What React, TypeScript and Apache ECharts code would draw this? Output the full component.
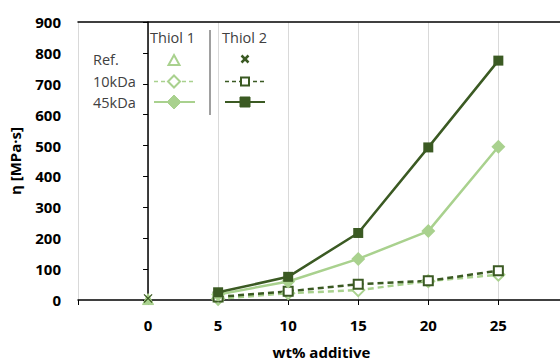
import React, { useEffect, useRef } from "react";
import * as echarts from "echarts";

const xValues = [5, 10, 15, 20, 25];
const refX = [0];
const refThiol1 = [3];
const refThiol2 = [5];
const thiol1_10k = [4, 22, 32, 61, 82];
const thiol2_10k = [10, 28, 51, 62, 95];
const thiol1_45k = [18, 60, 133, 223, 496];
const thiol2_45k = [25, 75, 217, 494, 775];

const LIGHT = "#a9d18e";
const DARK = "#3b5a23";
const TXT = "#404040";
const FONT = "'Open Sans', 'Noto Sans', sans-serif";

const X_SYMBOL =
  "path://M1,0 L5,4 L9,0 L10,1 L6,5 L10,9 L9,10 L5,6 L1,10 L0,9 L4,5 L0,1 Z";

function pairs(xs: number[], ys: number[]) {
  return xs.map((x, i) => [x, ys[i]]);
}

export default function App() {
  const ref = useRef<HTMLDivElement>(null);
  useEffect(() => {
    if (!ref.current) return;
    const chart = echarts.init(ref.current, null, { renderer: "svg" });
    const legendText = (t: string, x: number, y: number) => ({
      type: "text",
      x,
      y,
      style: {
        text: t,
        fill: TXT,
        font: `14.5px ${FONT}`,
        textVerticalAlign: "middle",
        textAlign: "left",
      },
    });
    const diamond = (cx: number, cy: number, h: number, filled: boolean, color: string) => ({
      type: "polygon",
      shape: {
        points: [
          [cx, cy - h],
          [cx + h, cy],
          [cx, cy + h],
          [cx - h, cy],
        ],
      },
      style: { fill: filled ? color : "#fff", stroke: color, lineWidth: filled ? 1 : 2 },
    });
    const xMax = 29.4;
    chart.setOption({
      animation: false,
      grid: {
        left: 78,
        right: 0,
        top: 22,
        bottom: 60,
        outerBoundsMode: "none",
        containLabel: false,
        show: false,
      },
      xAxis: [
        {
          type: "value",
          min: -5,
          max: xMax,
          interval: 5,
          name: "wt% additive",
          nameLocation: "middle",
          nameGap: 44,
          nameTextStyle: {
            color: "#000",
            fontWeight: "bold",
            fontSize: 15,
            fontFamily: FONT,
            padding: [0, 0, 0, 5],
          },
          axisLine: { show: true, lineStyle: { color: "#000", width: 1.5 } },
          axisTick: { show: true, length: 5, lineStyle: { color: "#000" } },
          axisLabel: {
            margin: 17,
            color: "#000",
            fontWeight: "bold",
            fontSize: 15,
            fontFamily: FONT,
            showMaxLabel: false,
            formatter: (v: number) => (v < 0 || v > 25 ? "" : String(v)),
          },
          splitLine: { show: true, showMaxLine: false, lineStyle: { color: "#d9d9d9", width: 1 } },
        },
        {
          type: "value",
          position: "top",
          min: -5,
          max: xMax,
          interval: 5,
          axisLine: { show: true, onZero: false, lineStyle: { color: "#000", width: 1.5 } },
          axisTick: { show: false },
          axisLabel: { show: false },
          splitLine: { show: false },
        },
      ],
      yAxis: {
        type: "value",
        min: 0,
        max: 900,
        interval: 100,
        name: "η [MPa·s]",
        nameLocation: "middle",
        nameGap: 56,
        nameTextStyle: { color: "#000", fontWeight: "bold", fontSize: 15, fontFamily: FONT },
        axisLine: { show: true, lineStyle: { color: "#000", width: 1.5 } },
        axisTick: { show: true, length: 5, lineStyle: { color: "#000" } },
        axisLabel: {
          margin: 17,
          color: "#000",
          fontWeight: "bold",
          fontSize: 15,
          fontFamily: FONT,
        },
        splitLine: { show: false },
      },
      series: [
        {
          name: "Thiol 1 10kDa",
          type: "line",
          data: pairs(xValues, thiol1_10k),
          symbol: "diamond",
          symbolSize: 12,
          lineStyle: { color: LIGHT, width: 2.5, type: [6, 4] },
          itemStyle: { color: "#fff", borderColor: LIGHT, borderWidth: 2 },
        },
        {
          name: "Thiol 2 10kDa",
          type: "line",
          data: pairs(xValues, thiol2_10k),
          symbol: "rect",
          symbolSize: 9,
          lineStyle: { color: DARK, width: 2.5, type: [6, 4] },
          itemStyle: { color: "#fff", borderColor: DARK, borderWidth: 2 },
        },
        {
          name: "Thiol 1 45kDa",
          type: "line",
          data: pairs(xValues, thiol1_45k),
          symbol: "diamond",
          symbolSize: 14,
          lineStyle: { color: LIGHT, width: 2.5 },
          itemStyle: { color: LIGHT },
        },
        {
          name: "Thiol 2 45kDa",
          type: "line",
          data: pairs(xValues, thiol2_45k),
          symbol: "rect",
          symbolSize: 10,
          lineStyle: { color: DARK, width: 2.5 },
          itemStyle: { color: DARK },
        },
        {
          name: "Thiol 1 Ref.",
          type: "line",
          data: pairs(refX, refThiol1),
          symbol: "triangle",
          symbolSize: 11,
          itemStyle: { color: LIGHT, borderColor: LIGHT, borderWidth: 1 },
        },
        {
          name: "Thiol 2 Ref.",
          type: "line",
          data: pairs(refX, refThiol2),
          symbol: X_SYMBOL,
          symbolSize: 9,
          itemStyle: { color: DARK },
        },
      ],
      graphic: [
        legendText("Thiol 1", 150, 37),
        legendText("Thiol 2", 222, 37),
        legendText("Ref.", 93, 59),
        legendText("10kDa", 93, 81),
        legendText("45kDa", 93, 102),
        {
          type: "line",
          shape: { x1: 210, y1: 30, x2: 210, y2: 115 },
          style: { stroke: TXT, lineWidth: 1 },
        },
        {
          type: "polygon",
          shape: { points: [[174, 55], [179.5, 65], [168.5, 65]] },
          style: { fill: "#fff", stroke: LIGHT, lineWidth: 2 },
        },
        {
          type: "line",
          shape: { x1: 241.5, y1: 55.5, x2: 248.5, y2: 62.5 },
          style: { stroke: DARK, lineWidth: 2.5 },
        },
        {
          type: "line",
          shape: { x1: 248.5, y1: 55.5, x2: 241.5, y2: 62.5 },
          style: { stroke: DARK, lineWidth: 2.5 },
        },
        {
          type: "line",
          shape: { x1: 154, y1: 81.5, x2: 195, y2: 81.5 },
          style: { stroke: LIGHT, lineWidth: 1.5, lineDash: [4, 3] },
        },
        diamond(174, 81.5, 6, false, LIGHT),
        {
          type: "line",
          shape: { x1: 154, y1: 102, x2: 195, y2: 102 },
          style: { stroke: LIGHT, lineWidth: 2 },
        },
        diamond(174, 102, 7, true, LIGHT),
        {
          type: "line",
          shape: { x1: 225, y1: 81.5, x2: 265, y2: 81.5 },
          style: { stroke: DARK, lineWidth: 1.5, lineDash: [4, 3] },
        },
        {
          type: "rect",
          shape: { x: 241, y: 77.5, width: 8, height: 8 },
          style: { fill: "#fff", stroke: DARK, lineWidth: 2 },
        },
        {
          type: "line",
          shape: { x1: 225, y1: 102, x2: 265, y2: 102 },
          style: { stroke: DARK, lineWidth: 2 },
        },
        {
          type: "rect",
          shape: { x: 240, y: 97, width: 10, height: 10 },
          style: { fill: DARK, stroke: DARK, lineWidth: 1 },
        },
      ],
    });
    return () => chart.dispose();
  }, []);
  return (
    <div
      ref={ref}
      style={{ position: "absolute", left: 0, top: 0, width: 560, height: 360, background: "#fff" }}
    />
  );
}
